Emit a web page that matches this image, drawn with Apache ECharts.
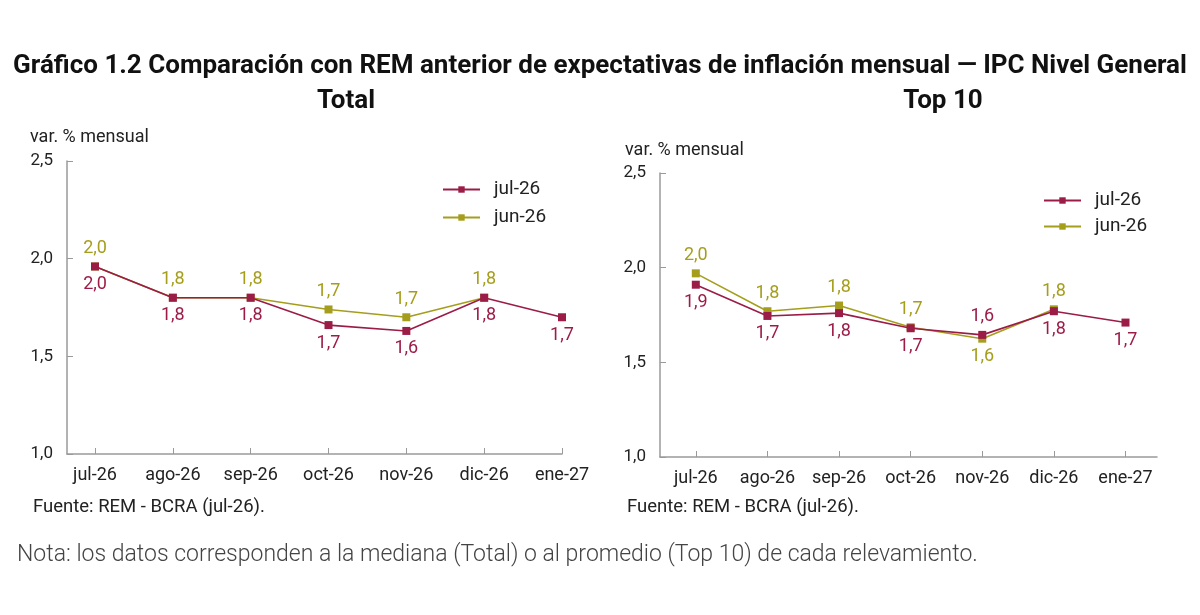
<!DOCTYPE html>
<html>
<head>
<meta charset="utf-8">
<script src="https://cdn.jsdelivr.net/npm/echarts@6/dist/echarts.min.js"></script>
<style>
html,body{margin:0;padding:0;background:#fff;}
#chart{width:1200px;height:615px;}
</style>
</head>
<body>
<div id="chart"></div>
<script>
var months = ["jul-26","ago-26","sep-26","oct-26","nov-26","dic-26","ene-27"];
var yTicks = [1.0, 1.5, 2.0, 2.5];

// Total (mediana)
var totalJul = [1.96, 1.80, 1.80, 1.66, 1.63, 1.80, 1.70];
var totalJun = [1.96, 1.80, 1.80, 1.74, 1.70, 1.80];

// Top 10 (promedio)
var topJul = [1.91, 1.745, 1.76, 1.68, 1.645, 1.77, 1.71];
var topJun = [1.97, 1.77, 1.80, 1.685, 1.625, 1.78];

var RED = "#9c1c48";
var OLIVE = "#a59e1c";
var FONT = "Roboto";

function fmt(v){
	return (Math.round(v*10)/10).toFixed(1).replace(".", ",");
}

// label goes on the side away from the other line
function pts(vals, other, up){
	var out = [];
	for(var i=0;i<vals.length;i++){
		var above = up;
		if(other[i] != undefined && other[i] != vals[i]){
			above = vals[i] > other[i];
		}
		out.push({value:[i, vals[i]], label:{position: above ? "top" : "bottom"}});
	}
	return out;
}

function serie(name, vals, other, up, color, idx){
	return {
		name:name,
		type:"line",
		xAxisIndex:idx,
		yAxisIndex:idx,
		data:pts(vals, other, up),
		symbol:"rect",
		symbolSize:8,
		itemStyle:{color:color},
		lineStyle:{color:color, width:1.6},
		label:{
			show:true,
			color:color,
			fontSize:18,
			fontFamily:FONT,
			distance:5,
			formatter:function(p){ return fmt(p.value[1]); }
		},
		z: up ? 2 : 3
	};
}

function xAx(idx, min, max){
	return {
		type:"value",
		gridIndex:idx,
		min:min,
		max:max,
		axisLine:{onZero:false, lineStyle:{color:"#9a9a9a", width:1.5}},
		axisTick:{show:true, length:6, inside:true, customValues:[0,1,2,3,4,5,6], lineStyle:{color:"#9a9a9a"}},
		axisLabel:{
			customValues:[0,1,2,3,4,5,6],
			color:"#222",
			fontSize:18,
			fontFamily:FONT,
			margin:12,
			formatter:function(v){ return months[Math.round(v)]; }
		},
		splitLine:{show:false}
	};
}

function yAx(idx){
	return {
		type:"value",
		gridIndex:idx,
		min:yTicks[0],
		max:yTicks[yTicks.length-1],
		interval:0.5,
		axisLine:{show:true, onZero:false, lineStyle:{color:"#9a9a9a", width:1.5}},
		axisTick:{show:true, length:6, inside:true, lineStyle:{color:"#9a9a9a"}},
		axisLabel:{
			color:"#222",
			fontSize:17,
			fontFamily:FONT,
			margin:14,
			formatter:function(v){ return v.toFixed(1).replace(".", ","); }
		},
		splitLine:{show:false}
	};
}

var myChart = echarts.init(document.getElementById("chart"));
var option = {
	backgroundColor:"#fff",
	animation:false,
	title:[
		{text:"Gráfico 1.2 Comparación con REM anterior de expectativas de inflación mensual — IPC Nivel General",
			left:"center", top:48, textStyle:{fontSize:26, fontWeight:"bold", color:"#111", fontFamily:FONT}},
		{text:"Total", left:341, top:83, textAlign:"center", textStyle:{fontSize:26, fontWeight:"bold", color:"#111", fontFamily:FONT}},
		{text:"Top 10", left:938, top:83, textAlign:"center", textStyle:{fontSize:26, fontWeight:"bold", color:"#111", fontFamily:FONT}},
		{text:"var. % mensual", left:25, top:123, textStyle:{fontSize:18, fontWeight:"normal", color:"#222", fontFamily:FONT}},
		{text:"var. % mensual", left:620, top:136, textStyle:{fontSize:18, fontWeight:"normal", color:"#222", fontFamily:FONT}},
		{text:"Fuente: REM - BCRA (jul-26).", left:28, top:493, textStyle:{fontSize:18.5, fontWeight:"normal", color:"#222", fontFamily:FONT}},
		{text:"Fuente: REM - BCRA (jul-26).", left:622, top:493, textStyle:{fontSize:18.5, fontWeight:"normal", color:"#222", fontFamily:FONT}},
		{text:"Nota: los datos corresponden a la mediana (Total) o al promedio (Top 10) de cada relevamiento.",
			left:12, top:539, textStyle:{fontSize:23, fontWeight:300, color:"#444", fontFamily:FONT}}
	],
	legend:[
		{data:["jul-26","jun-26"], orient:"vertical", left:437, top:175, itemWidth:37, itemHeight:8, itemGap:9,
			textStyle:{fontSize:19, color:"#222", fontFamily:FONT, padding:[0,0,0,9]}},
		{data:["jul-26","jun-26"], orient:"vertical", left:1038, top:186, itemWidth:37, itemHeight:8, itemGap:7,
			textStyle:{fontSize:19, color:"#222", fontFamily:FONT, padding:[0,0,0,9]}}
	],
	grid:[
		{left:67, top:161, width:495, height:293},
		{left:660, top:173, width:497, height:284}
	],
	xAxis:[xAx(0, -0.36, 6), xAx(1, -0.5, 6.44)],
	yAxis:[yAx(0), yAx(1)],
	series:[
		serie("jun-26", totalJun, totalJul, true, OLIVE, 0),
		serie("jul-26", totalJul, totalJun, false, RED, 0),
		serie("jun-26", topJun, topJul, true, OLIVE, 1),
		serie("jul-26", topJul, topJun, false, RED, 1)
	]
};
myChart.setOption(option);
</script>
</body>
</html>
